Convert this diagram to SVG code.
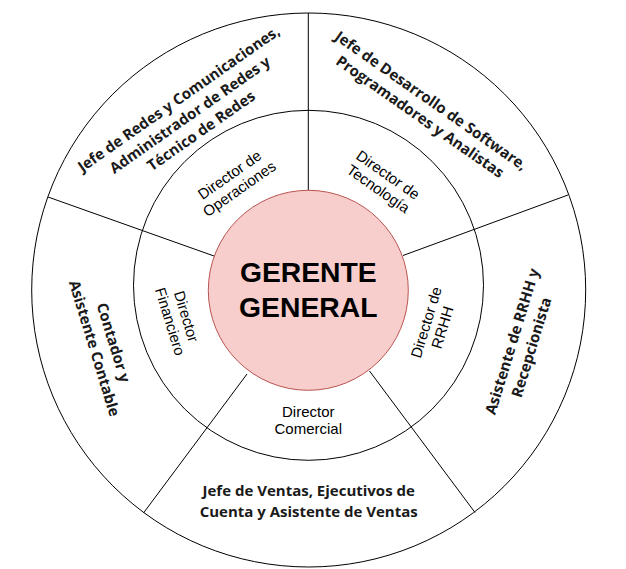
<svg xmlns="http://www.w3.org/2000/svg" width="626" height="569" viewBox="0 0 626 569">
<style>
.ring{fill:#ffffff;stroke:#000000;stroke-width:1}
.div{stroke:#000000;stroke-width:1;fill:none}
.outer{font-family:"Open Sans","Noto Sans",sans-serif;font-weight:bold;font-size:15px;fill:#1a1a1a;text-anchor:middle}
.inner{font-family:"Liberation Sans",Arial,sans-serif;font-size:15px;fill:#000000;text-anchor:middle}
.main{font-family:"Liberation Sans",Arial,sans-serif;font-weight:bold;font-size:28.3px;fill:#000000;text-anchor:middle}
</style>
<rect width="626" height="569" fill="#ffffff"/>
<g id="outer-ring">
<circle class="ring" cx="308.7" cy="290" r="277"/>
</g>
<g id="middle-ring">
<circle class="ring" cx="308.5" cy="285.3" r="175"/>
</g>
<g id="connectors">
<line class="div" x1="308.3" y1="13" x2="308.3" y2="190.5"/>
<line class="div" x1="48" y1="197" x2="214" y2="256"/>
<line class="div" x1="568" y1="195" x2="403" y2="255.5"/>
<line class="div" x1="247" y1="374" x2="143.5" y2="513"/>
<line class="div" x1="369.5" y1="371" x2="475" y2="512.5"/>
</g>
<g id="gerente-general">
<circle cx="308.3" cy="290.3" r="100" fill="#f8cecc" stroke="#b85450" stroke-width="1"/>
<text class="main" x="308.3" y="282">GERENTE</text>
<text class="main" x="308.3" y="317">GENERAL</text>
</g>
<g id="director-operaciones">
<text class="inner" transform="translate(234.5,182) rotate(-35)"><tspan x="0" y="-3.5">Director de</tspan><tspan x="0" y="13.5">Operaciones</tspan></text>
</g>
<g id="director-tecnologia">
<text class="inner" transform="translate(383,182) rotate(35)"><tspan x="0" y="-3.5">Director de</tspan><tspan x="0" y="13.5">Tecnología</tspan></text>
</g>
<g id="director-rrhh">
<text class="inner" transform="translate(434.5,325) rotate(-73)"><tspan x="0" y="-3.5">Director de</tspan><tspan x="0" y="13.5">RRHH</tspan></text>
</g>
<g id="director-financiero">
<text class="inner" transform="translate(178,319) rotate(73)"><tspan x="0" y="-3.5">Director</tspan><tspan x="0" y="13.5">Financiero</tspan></text>
</g>
<g id="director-comercial">
<text class="inner" x="308.3" y="417">Director</text>
<text class="inner" x="308.3" y="433.5">Comercial</text>
</g>
<g id="redes">
<text class="outer" transform="translate(190,115) rotate(-35)"><tspan x="0" y="-14.5">Jefe de Redes y Comunicaciones,</tspan><tspan x="0" y="5">Administrador de Redes y</tspan><tspan x="0" y="24.5">Técnico de Redes</tspan></text>
</g>
<g id="desarrollo">
<text class="outer" transform="translate(425.6,108.7) rotate(35)"><tspan x="0" y="-4.5">Jefe de Desarrollo de Software,</tspan><tspan x="0" y="15">Programadores y Analistas</tspan></text>
</g>
<g id="rrhh-staff">
<text class="outer" transform="translate(522,344.5) rotate(-73)"><tspan x="0" y="-5">Asistente de RRHH y</tspan><tspan x="0" y="15">Recepcionista</tspan></text>
</g>
<g id="contabilidad">
<text class="outer" transform="translate(103.7,345.5) rotate(73)"><tspan x="0" y="-5">Contador y</tspan><tspan x="0" y="15">Asistente Contable</tspan></text>
</g>
<g id="ventas">
<text class="outer" x="308.7" y="496">Jefe de Ventas, Ejecutivos de</text>
<text class="outer" x="308.7" y="516.5">Cuenta y Asistente de Ventas</text>
</g>
</svg>
